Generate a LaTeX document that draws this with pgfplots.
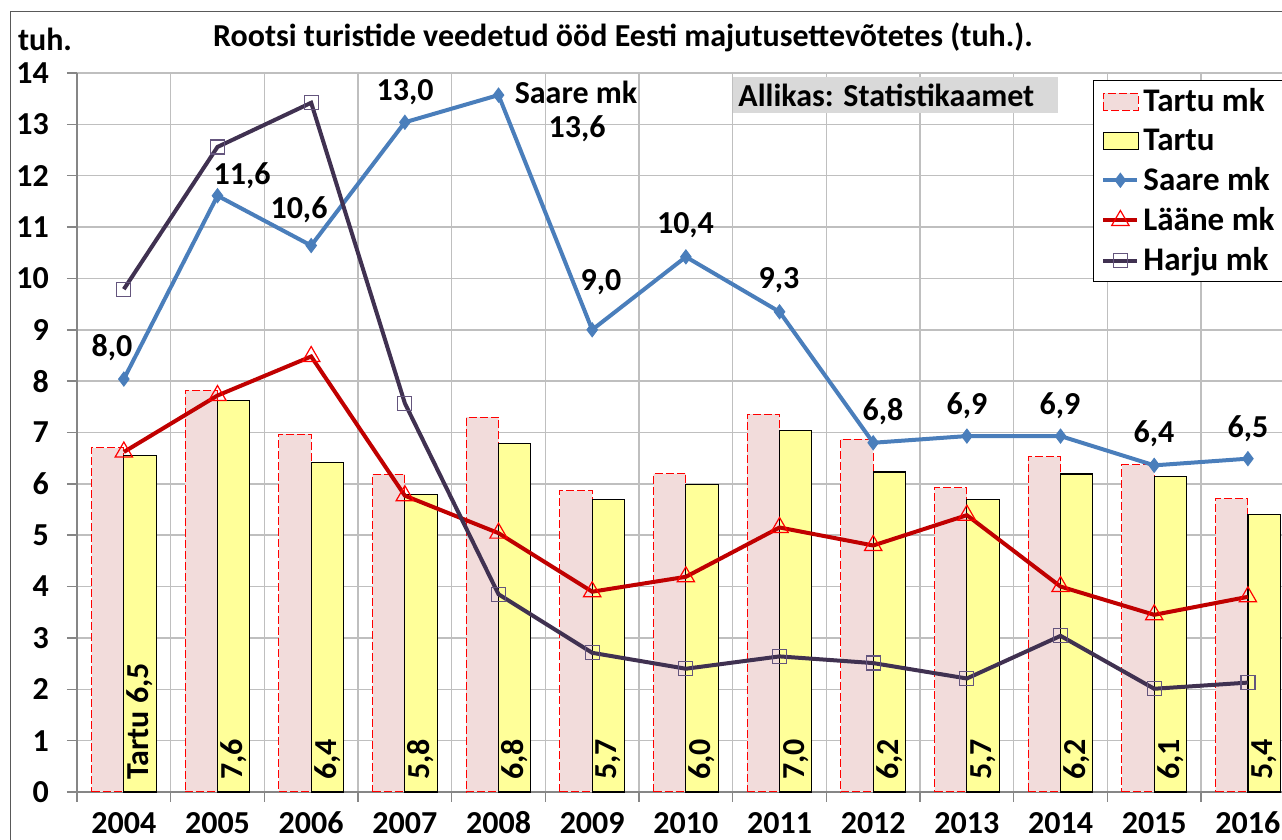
\documentclass[border=0pt]{standalone}
\usepackage{pgfplots}
\pgfplotsset{compat=1.18}
\usepackage{fontspec}
\setmainfont{Carlito}
\definecolor{saare}{RGB}{74,126,187}
\definecolor{laane}{RGB}{192,0,0}
\definecolor{harju}{RGB}{64,49,81}
\definecolor{harjumk}{RGB}{100,85,125}
\definecolor{tmkfill}{RGB}{242,220,219}
\definecolor{tartufill}{RGB}{255,255,153}
\definecolor{gridgray}{RGB}{191,191,191}
\definecolor{axgray}{RGB}{134,134,134}
\definecolor{srcgray}{RGB}{217,217,217}
\newcommand\fb{\bfseries\fontsize{16}{19}\selectfont}
\tikzset{lab/.style={font=\fb, inner sep=0pt}}
\pgfplotsset{barleg/.style={legend image code/.code={%
  \draw[##1] (0pt,-4.25pt) rectangle (17.5pt,4.25pt);}}}

\begin{document}
\begin{tikzpicture}
\useasboundingbox (0,0) rectangle (641pt,420pt);
\begin{axis}[
  at={(38.5pt,24pt)}, anchor=south west,
  scale only axis, width=602.5pt, height=359.5pt,
  xmin=-0.5, xmax=12.364, ymin=0, ymax=14,
  clip=false,
  axis x line*=bottom, axis y line*=left,
  axis line style={draw=axgray, line width=0.75pt, -},
  xtick={-0.5,0.5,...,11.5}, xticklabels={},
  extra x ticks={0,...,12},
  extra x tick labels={2004,2005,2006,2007,2008,2009,2010,2011,2012,2013,2014,2015,2016},
  extra x tick style={major tick length=0pt, grid=none},
  ytick={0,1,...,14},
  tick align=outside, major tick length=5pt,
  tick style={draw=axgray, line width=0.75pt},
  grid=major, grid style={draw=gridgray, line width=0.75pt},
  /pgf/number format/assume math mode=true,
  tick label style={font=\fb},
  yticklabel style={xshift=-5.5pt},
  xticklabel style={text height=10.5pt, text depth=0pt, yshift=-6.5pt},
  legend cell align=left,
  legend style={at={(0.843,0.990)}, anchor=north west, draw=black,
    line width=0.5pt, fill=white, font=\bfseries\fontsize{16.5}{19}\selectfont,
    row sep=3pt, inner xsep=4pt, inner ysep=2pt},
]
% Tartu mk
\addplot[ybar, bar width=0.345, bar shift=-0.1725, fill=tmkfill, draw=red,
  dash pattern=on 4pt off 1.5pt, line width=0.5pt, barleg]
  coordinates {(0,6.70)(1,7.82)(2,6.97)(3,6.19)(4,7.30)(5,5.87)(6,6.20)
               (7,7.36)(8,6.87)(9,5.92)(10,6.53)(11,6.37)(12,5.71)};
% Tartu
\addplot[ybar, bar width=0.345, bar shift=0.1725, fill=tartufill, draw=black,
  line width=0.6pt, barleg]
  coordinates {(0,6.55)(1,7.62)(2,6.42)(3,5.80)(4,6.78)(5,5.69)(6,5.98)
               (7,7.04)(8,6.23)(9,5.70)(10,6.19)(11,6.15)(12,5.41)};
% Saare mk
\addplot[color=saare, line width=2pt, mark=diamond*, mark size=3.5pt,
  mark options={solid, fill=saare, line width=0.5pt}]
  coordinates {(0,8.04)(1,11.61)(2,10.64)(3,13.04)(4,13.57)(5,9.00)(6,10.42)
               (7,9.35)(8,6.80)(9,6.93)(10,6.93)(11,6.36)(12,6.49)};
% Lääne mk
\addplot[color=laane, line width=2pt, mark=triangle, mark size=5pt,
  mark options={draw=red, line width=0.6pt, fill=none}]
  coordinates {(0,6.62)(1,7.72)(2,8.48)(3,5.77)(4,5.04)(5,3.90)(6,4.19)
               (7,5.15)(8,4.80)(9,5.39)(10,4.00)(11,3.45)(12,3.80)};
% Harju mk
\addplot[color=harju, line width=2pt, mark=square, mark size=3.5pt,
  mark options={draw=harjumk, line width=0.6pt}]
  coordinates {(0,9.79)(1,12.56)(2,13.42)(3,7.57)(4,3.85)(5,2.71)(6,2.40)
               (7,2.64)(8,2.51)(9,2.21)(10,3.04)(11,2.01)(12,2.13)};
\legend{Tartu mk, Tartu, Saare mk, Lääne mk, Harju mk}

% Saare mk data labels
\node[lab] at (axis cs:-0.126,8.66) {8,0};
\node[lab] at (axis cs:1.262,11.99) {11,6};
\node[lab] at (axis cs:1.870,11.33) {10,6};
\node[lab] at (axis cs:3.002,13.63) {13,0};
\node[lab] at (axis cs:4.827,13.63) {Saare mk};
\node[lab] at (axis cs:4.838,12.91) {13,6};
\node[lab] at (axis cs:5.094,9.93) {9,0};
\node[lab] at (axis cs:5.996,11.03) {10,4};
\node[lab] at (axis cs:6.994,9.96) {9,3};
\node[lab] at (axis cs:8.105,7.40) {6,8};
\node[lab] at (axis cs:9.002,7.52) {6,9};
\node[lab] at (axis cs:9.994,7.52) {6,9};
\node[lab] at (axis cs:10.998,6.97) {6,4};
\node[lab] at (axis cs:12.0,7.07) {6,5};

% Tartu bar labels
\node[lab, rotate=90, anchor=west] at (axis cs:0.1725,0.23) {Tartu 6,5};
\node[lab, rotate=90, anchor=west] at (axis cs:1.1725,0.23) {7,6};
\node[lab, rotate=90, anchor=west] at (axis cs:2.1725,0.23) {6,4};
\node[lab, rotate=90, anchor=west] at (axis cs:3.1725,0.23) {5,8};
\node[lab, rotate=90, anchor=west] at (axis cs:4.1725,0.23) {6,8};
\node[lab, rotate=90, anchor=west] at (axis cs:5.1725,0.23) {5,7};
\node[lab, rotate=90, anchor=west] at (axis cs:6.1725,0.23) {6,0};
\node[lab, rotate=90, anchor=west] at (axis cs:7.1725,0.23) {7,0};
\node[lab, rotate=90, anchor=west] at (axis cs:8.1725,0.23) {6,2};
\node[lab, rotate=90, anchor=west] at (axis cs:9.1725,0.23) {5,7};
\node[lab, rotate=90, anchor=west] at (axis cs:10.1725,0.23) {6,2};
\node[lab, rotate=90, anchor=west] at (axis cs:11.1725,0.23) {6,1};
\node[lab, rotate=90, anchor=west] at (axis cs:12.1725,0.23) {5,4};
\end{axis}

% source box
\fill[srcgray] (366.5pt,363.5pt) rectangle (529pt,381.5pt);
\node[anchor=west, font=\fb, inner sep=0pt] at (369pt,372.5pt) {Allikas: Statistikaamet};

% title and unit
\node[font=\fb] at (311.5pt,401.5pt) {Rootsi turistide veedetud ööd Eesti majutusettevõtetes (tuh.).};
\node[font=\fb] at (22.5pt,400.5pt) {tuh.};

% chart frame
\draw[black!65, line width=0.5pt] (5pt,0) -- (5pt,414pt) -- (641pt,414pt);
\end{tikzpicture}
\end{document}
